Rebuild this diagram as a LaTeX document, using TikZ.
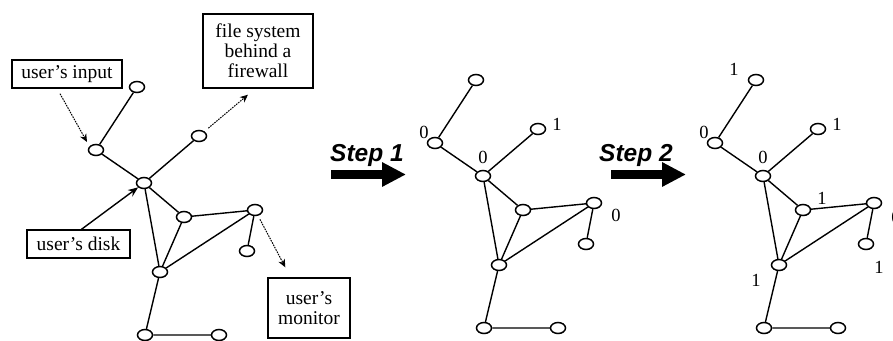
\documentclass[tikz,border=0pt]{standalone}
\usepackage{fontspec}
\setmainfont{Liberation Serif}
\newfontfamily\stepfont{Liberation Sans}
\usetikzlibrary{shapes.geometric,arrows.meta}

\tikzset{
  vert/.style={draw, ellipse, line width=1.5pt, minimum width=15pt, minimum height=11pt, inner sep=0pt},
  edge/.style={line width=1.4pt},
  srcbox/.style={draw, line width=1.4pt, align=center, inner sep=2pt, font=\fontsize{19.5}{20}\selectfont},
  num/.style={font=\fontsize{18.5}{18.5}\selectfont, inner sep=0pt},
  flow/.style={dash pattern=on 1.6pt off 1pt, line width=1pt, -{Stealth[length=8pt,width=7pt]}},
  steparrow/.style={line width=8.5pt, -{Triangle[length=24pt,width=23pt]}},
  steplabel/.style={font=\stepfont\bfseries\itshape\fontsize{24.5}{24.5}\selectfont, inner sep=0pt, anchor=base west}
}

\begin{document}
\begin{tikzpicture}[x=1pt,y=-1pt]
		\useasboundingbox (0,0) rectangle (893,340);
		% graph 1
		\node[vert] (g1a) at (137,87) {};
		\node[vert] (g1b) at (96,150) {};
		\node[vert] (g1c) at (144,183) {};
		\node[vert] (g1d) at (199,136) {};
		\node[vert] (g1e) at (184,217) {};
		\node[vert] (g1f) at (255,210) {};
		\node[vert] (g1g) at (247,251) {};
		\node[vert] (g1h) at (160,272) {};
		\node[vert] (g1i) at (145,335) {};
		\node[vert] (g1j) at (219,335) {};
		\draw[edge] (g1a) -- (g1b) -- (g1c) -- (g1d);
		\draw[edge] (g1c) -- (g1e) -- (g1f) -- (g1h) -- (g1c);
		\draw[edge] (g1e) -- (g1h) -- (g1i) -- (g1j);
		\draw[edge] (g1f) -- (g1g);
		% sources and sinks
		\node[srcbox, minimum width=110pt, minimum height=28pt] (uin) at (67,74) {user's input};
		\node[srcbox, minimum width=110pt, minimum height=74pt] (fw) at (258,51) {file system\\behind a\\firewall};
		\node[srcbox, minimum width=103pt, minimum height=28pt] (disk) at (78.5,244) {user's disk};
		\node[srcbox, minimum width=82pt, minimum height=60pt] (mon) at (309,308) {user's\\monitor};
		\draw[flow] ([shift={(-7,5)}]uin.south) -- ([shift={(-9,-8)}]g1b.center);
		\draw[flow, shorten <=5pt] (g1d) -- ([shift={(-10,6)}]fw.south);
		\draw[flow, shorten <=4pt] (g1f) -- ([shift={(18,-10)}]mon.north west);
		\draw[edge, -{Stealth[length=10pt,width=8pt]}] ([xshift=3pt]disk.north) -- (g1c);
		% step 1
		\coordinate (s1tail) at (331,174.5);
		\coordinate (s1tip) at (406,174.5);
		\draw[steparrow] (s1tail) -- (s1tip);
		\node[steplabel] (s1) at (330,161) {Step 1};
		% graph 2
		\begin{scope}[shift={(339,-7)}]
		\node[vert] (g2a) at (137,87) {};
		\node[vert] (g2b) at (96,150) {};
		\node[vert] (g2c) at (144,183) {};
		\node[vert] (g2d) at (199,136) {};
		\node[vert] (g2e) at (184,217) {};
		\node[vert] (g2f) at (255,210) {};
		\node[vert] (g2g) at (247,251) {};
		\node[vert] (g2h) at (160,272) {};
		\node[vert] (g2i) at (145,335) {};
		\node[vert] (g2j) at (219,335) {};
		\end{scope}
		\draw[edge] (g2a) -- (g2b) -- (g2c) -- (g2d);
		\draw[edge] (g2c) -- (g2e) -- (g2f) -- (g2h) -- (g2c);
		\draw[edge] (g2e) -- (g2h) -- (g2i) -- (g2j);
		\draw[edge] (g2f) -- (g2g);
		\node[num] (n2b) at ([shift={(-11,-11)}]g2b) {0};
		\node[num] (n2c) at ([shift={(0,-19)}]g2c) {0};
		\node[num] (n2d) at ([shift={(19,-5)}]g2d) {1};
		\node[num] (n2f) at ([shift={(22,12)}]g2f) {0};
		% step 2
		\coordinate (s2tail) at (611,174.5);
		\coordinate (s2tip) at (686,174.5);
		\draw[steparrow] (s2tail) -- (s2tip);
		\node[steplabel] (s2) at (599,161) {Step 2};
		% graph 3
		\begin{scope}[shift={(619,-7)}]
		\node[vert] (g3a) at (137,87) {};
		\node[vert] (g3b) at (96,150) {};
		\node[vert] (g3c) at (144,183) {};
		\node[vert] (g3d) at (199,136) {};
		\node[vert] (g3e) at (184,217) {};
		\node[vert] (g3f) at (255,210) {};
		\node[vert] (g3g) at (247,251) {};
		\node[vert] (g3h) at (160,272) {};
		\node[vert] (g3i) at (145,335) {};
		\node[vert] (g3j) at (219,335) {};
		\end{scope}
		\draw[edge] (g3a) -- (g3b) -- (g3c) -- (g3d);
		\draw[edge] (g3c) -- (g3e) -- (g3f) -- (g3h) -- (g3c);
		\draw[edge] (g3e) -- (g3h) -- (g3i) -- (g3j);
		\draw[edge] (g3f) -- (g3g);
		\node[num] (n3a) at ([shift={(-22,-11)}]g3a) {1};
		\node[num] (n3b) at ([shift={(-11,-11)}]g3b) {0};
		\node[num] (n3c) at ([shift={(0,-19)}]g3c) {0};
		\node[num] (n3d) at ([shift={(19,-5)}]g3d) {1};
		\node[num] (n3e) at ([shift={(19,-12)}]g3e) {1};
		\node[num] (n3f) at ([shift={(22,14)}]g3f) {0};
		\node[num] (n3g) at ([shift={(13,23)}]g3g) {1};
		\node[num] (n3h) at ([shift={(-23,15)}]g3h) {1};
	\end{tikzpicture}
\end{document}
